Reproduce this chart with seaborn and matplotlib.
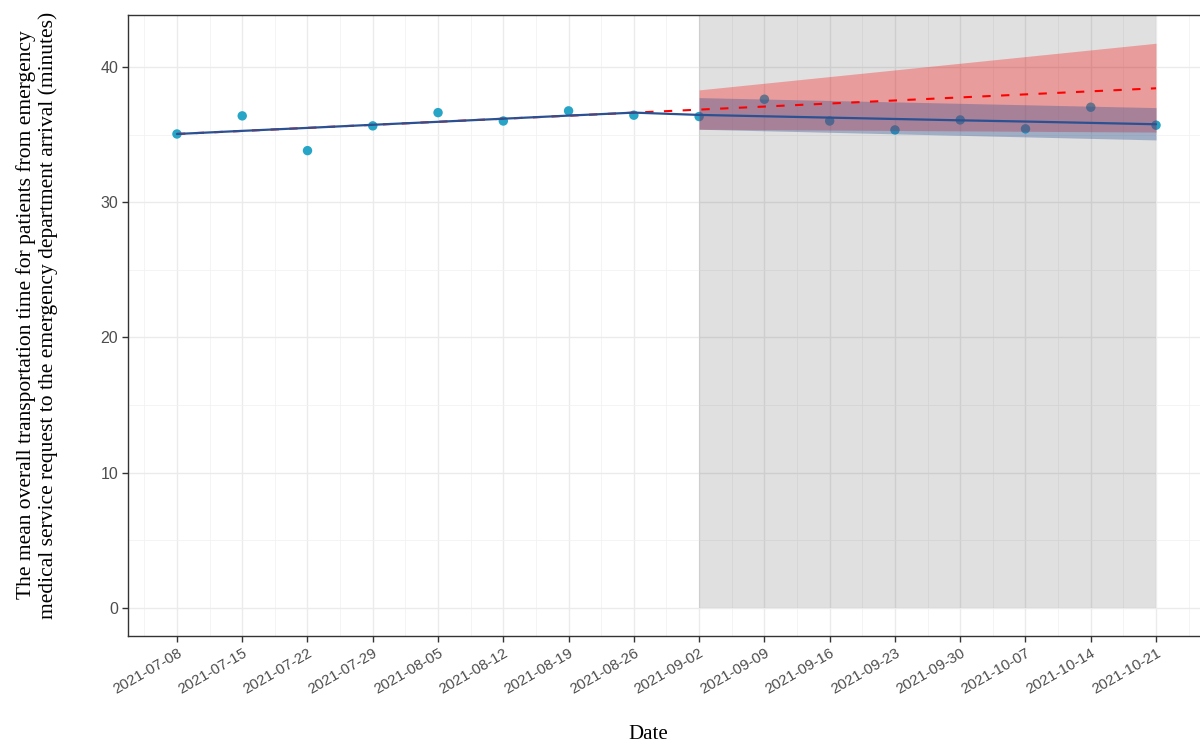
import matplotlib
matplotlib.use('Agg')
import matplotlib.pyplot as plt
import matplotlib.dates as mdates
import pandas as pd
import seaborn as sns

# weekly observations (minutes)
dates = pd.date_range('2021-07-08', '2021-10-21', freq='7D')
observed = [35.04, 36.38, 33.81, 35.64, 36.62, 36.00, 36.75, 36.43,
            36.33, 37.61, 36.00, 35.34, 36.08, 35.42, 37.02, 35.69]
# segmented regression fit
fitted = [35.04, 35.27, 35.49, 35.72, 35.94, 36.17, 36.40, 36.62,
          36.45, 36.35, 36.25, 36.15, 36.05, 35.96, 35.86, 35.76]

# counterfactual (pre-trend extended)
cf_dates = pd.to_datetime(['2021-07-08', '2021-10-21'])
cf_values = [35.04, 38.42]

# post-period bands
band_dates = pd.to_datetime(['2021-09-02', '2021-10-21'])
fit_lo = [35.39, 34.60]
fit_hi = [37.73, 36.99]
cf_lo = [35.39, 35.18]
cf_hi = [38.30, 41.75]

post_start, post_end = pd.Timestamp('2021-09-02'), pd.Timestamp('2021-10-21')

df = pd.DataFrame({'date': dates, 'observed': observed, 'fitted': fitted})

sns.set_theme(style='white')
plt.rcParams['font.family'] = ['Liberation Sans', 'DejaVu Sans']

fig = plt.figure(figsize=(12, 7.47), dpi=100)
ax = fig.add_axes([128 / 1200, 1 - 636 / 747, 1077 / 1200, 621 / 747])

ylo, yhi = -2.09, 43.84
xlo = dates[0] - pd.Timedelta(days=5.25)
xhi = dates[-1] + pd.Timedelta(days=5.25)

# shaded post-intervention period
ax.fill_between([post_start, post_end], 0, yhi, color='black', alpha=0.12,
                linewidth=0, zorder=1)

sns.scatterplot(data=df, x='date', y='observed', ax=ax, color='#27A5C6',
                s=46, edgecolor='none', zorder=2)

ax.fill_between(band_dates, cf_lo, cf_hi, color='red', alpha=0.3,
                linewidth=0, zorder=3)
ax.fill_between(band_dates, fit_lo, fit_hi, color='#2B5193', alpha=0.35,
                linewidth=0, zorder=3)

ax.plot(cf_dates, cf_values, color='red', lw=1.5, dashes=(4, 5), zorder=4)
sns.lineplot(data=df, x='date', y='fitted', ax=ax, color='#2B5193', lw=1.6,
             zorder=5)

ax.set_xlim(xlo, xhi)
ax.set_ylim(ylo, yhi)

ax.set_xticks(dates)
ax.xaxis.set_major_formatter(mdates.DateFormatter('%Y-%m-%d'))
minor_x = list(dates[:-1] + pd.Timedelta(days=3.5))
minor_x += [dates[0] - pd.Timedelta(days=3.5), dates[-1] + pd.Timedelta(days=3.5)]
ax.set_xticks(minor_x, minor=True)
ax.set_yticks([0, 10, 20, 30, 40])
ax.set_yticks([5, 15, 25, 35], minor=True)

ax.grid(which='major', color='#EBEBEB', lw=1.0, zorder=0)
ax.grid(which='minor', color='#F2F2F2', lw=0.6, zorder=0)
ax.set_axisbelow(True)

for lab in ax.get_xticklabels():
    lab.set_rotation(30)
    lab.set_ha('right')
    lab.set_rotation_mode('anchor')
ax.tick_params(axis='both', which='major', length=4, width=1, color='#333333',
               labelcolor='#4D4D4D', labelsize=10.8, pad=3, bottom=True, left=True)
ax.tick_params(axis='both', which='minor', length=0)
ax.tick_params(axis='y', labelsize=11.5)

for side in ['left', 'bottom', 'top']:
    ax.spines[side].set_color('#333333')
    ax.spines[side].set_linewidth(1.0)
ax.spines['right'].set_visible(False)

ax.set_xlabel('Date', family='Liberation Serif', fontsize=15, color='black')
ax.xaxis.set_label_coords((648 - 128) / 1077, -0.143)
ax.set_ylabel('The mean overall transportation time for patients from emergency\n'
              'medical service request to the emergency department arrival (minutes)',
              family='Liberation Serif', fontsize=15.5, color='black',
              linespacing=1.15)
ax.yaxis.set_label_coords(-0.065, (636 - 315) / 621)

fig.savefig('out.png', dpi=100)
